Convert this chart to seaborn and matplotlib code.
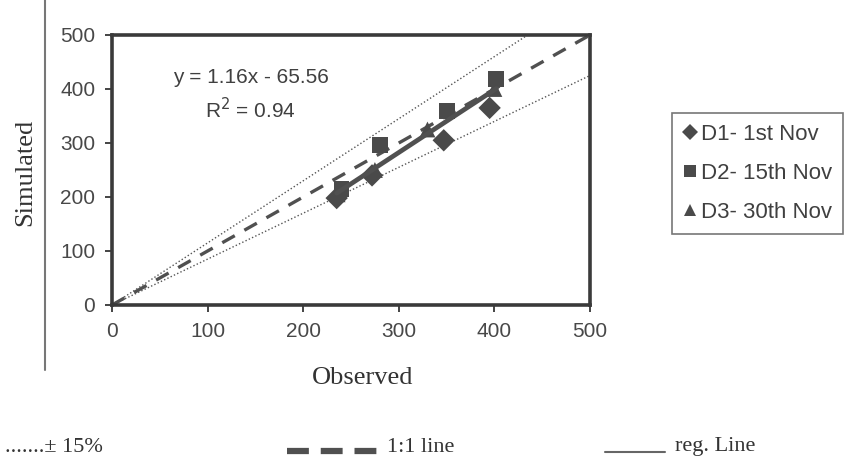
import pandas as pd
import seaborn as sns
import matplotlib.pyplot as plt
from matplotlib.lines import Line2D

# observed vs simulated values for the three sowing dates
obs_d1 = [235, 272, 347, 395]
sim_d1 = [198, 240, 305, 365]
obs_d2 = [240, 280, 350, 402]
sim_d2 = [215, 297, 360, 418]
obs_d3 = [236, 275, 330, 400]
sim_d3 = [205, 250, 325, 400]
series_names = ["D1- 1st Nov", "D2- 15th Nov", "D3- 30th Nov"]

slope, intercept, r2 = 1.16, -65.56, 0.94
band = 0.15
ticks = [0, 100, 200, 300, 400, 500]

df = pd.concat([
    pd.DataFrame({"obs": obs_d1, "sim": sim_d1, "series": series_names[0]}),
    pd.DataFrame({"obs": obs_d2, "sim": sim_d2, "series": series_names[1]}),
    pd.DataFrame({"obs": obs_d3, "sim": sim_d3, "series": series_names[2]}),
])

one = pd.DataFrame({"x": [0, 500], "y": [0, 500]})
upper = pd.DataFrame({"x": [0, 500], "y": [0, 500 * (1 + band)]})
lower = pd.DataFrame({"x": [0, 500], "y": [0, 500 * (1 - band)]})
xr = [min(df["obs"]), max(df["obs"])]
reg = pd.DataFrame({"x": xr, "y": [slope * v + intercept for v in xr]})

sns.set_style("white")
fig = plt.figure(figsize=(8.52, 4.58), dpi=100)
ax = fig.add_axes([112 / 852, 1 - 305 / 458, 478 / 852, 270 / 458])

dark = "#4a4a4a"
sns.lineplot(data=upper, x="x", y="y", ax=ax, color="#555555", lw=1.0,
             linestyle=(0, (1, 1.6)))
sns.lineplot(data=lower, x="x", y="y", ax=ax, color="#555555", lw=1.0,
             linestyle=(0, (1, 1.6)))
sns.lineplot(data=one, x="x", y="y", ax=ax, color="#505050", lw=2.4,
             linestyle=(0, (4.3, 3.3)))
sns.scatterplot(data=df, x="obs", y="sim", style="series", ax=ax,
                markers={series_names[0]: "D", series_names[1]: "s", series_names[2]: "^"},
                color=dark, s=130, linewidth=0, zorder=3)
sns.lineplot(data=reg, x="x", y="y", ax=ax, color="#505050", lw=3.4, zorder=4)

ax.set_xlim(0, 500)
ax.set_ylim(0, 500)
ax.set_xticks(ticks)
ax.set_yticks(ticks)
ax.set_xlabel("")
ax.set_ylabel("")
for s in ax.spines.values():
    s.set_linewidth(2.6)
    s.set_color("#3a3a3a")
ax.tick_params(direction="out", length=5, width=1.4, color="#444444",
               left=True, bottom=True, labelsize=15, labelcolor="#484848", pad=7)
for t in ax.get_xticklabels() + ax.get_yticklabels():
    t.set_fontfamily("Liberation Sans")

# regression equation
ax.text(145, 422, f"y = {slope}x - {abs(intercept)}", ha="center", va="center",
        fontsize=15, color="#404040", family="Liberation Sans")
ax.text(145, 362, f"R$^2$ = {r2}", ha="center", va="center",
        fontsize=15, color="#404040", family="Liberation Sans")

handles, labels = ax.get_legend_handles_labels()
leg = ax.legend(handles, labels, loc="upper left",
                bbox_to_anchor=(672 / 852, 1 - 113 / 458), bbox_transform=fig.transFigure,
                borderaxespad=0, frameon=True, fancybox=False, edgecolor="#555555",
                handlelength=0.6, handletextpad=0.2, labelspacing=0.8,
                borderpad=0.5, markerscale=0.7, prop={"family": "Liberation Sans", "size": 16})
leg.get_frame().set_linewidth(1.2)
for t in leg.get_texts():
    t.set_color("#404040")

# axis titles
fig.text(363 / 852, 1 - 378 / 458, "Observed", ha="center", va="center",
         fontsize=19, family="Liberation Serif", color="#333333")
fig.text(25 / 852, 1 - 172 / 458, "Simulated", ha="center", va="center",
         rotation=90, fontsize=19, family="Liberation Serif", color="#333333")

# vertical rule on the left
fig.add_artist(Line2D([45 / 852, 45 / 852], [1.0, 1 - 370 / 458],
                      transform=fig.transFigure, color="#777777", lw=1.5))

# bottom key
yk = 1 - 447 / 458
fig.text(5 / 852, yk, ".......± 15%", ha="left", va="center", fontsize=16,
         family="Liberation Serif", color="#333333")
fig.add_artist(Line2D([287 / 852, 381 / 852], [1 - 451 / 458] * 2,
                      transform=fig.transFigure, color="#505050", lw=4.5,
                      linestyle=(0, (3.5, 1.9))))
fig.text(387 / 852, yk, "1:1 line", ha="left", va="center", fontsize=16,
         family="Liberation Serif", color="#333333")
fig.add_artist(Line2D([605 / 852, 665 / 852], [1 - 452 / 458] * 2,
                      transform=fig.transFigure, color="#666666", lw=1.5))
fig.text(675 / 852, yk, "reg. Line", ha="left", va="center", fontsize=16,
         family="Liberation Serif", color="#333333")

fig.savefig("out.png", dpi=100)
